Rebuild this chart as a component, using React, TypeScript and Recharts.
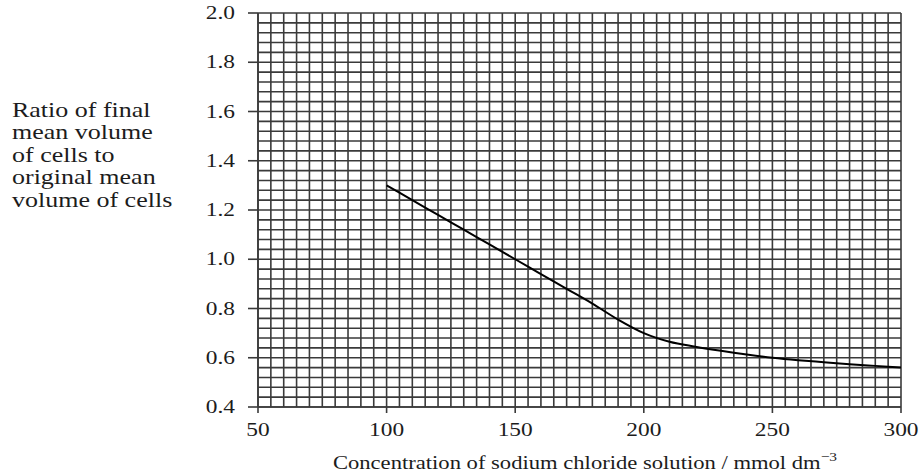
import { LineChart, Line, XAxis, YAxis, CartesianGrid } from 'recharts';

// concentration of NaCl (mmol dm-3)
const concentration = [100, 110, 120, 130, 140, 150, 160, 170, 180, 190, 200, 210, 220, 230, 240, 250, 260, 270, 280, 290, 300];
// ratio of final / original mean cell volume
const volumeRatio = [1.30, 1.24, 1.18, 1.12, 1.06, 1.0, 0.94, 0.88, 0.82, 0.755, 0.70, 0.665, 0.645, 0.628, 0.613, 0.60, 0.59, 0.582, 0.574, 0.567, 0.56];

const xMajor = [50, 100, 150, 200, 250, 300];
const yMajor = [0.4, 0.6, 0.8, 1.0, 1.2, 1.4, 1.6, 1.8, 2.0];

const yLabelLines = ['Ratio of final', 'mean volume', 'of cells to', 'original mean', 'volume of cells'];

// graph paper: minor squares every 5 on x, every 0.04 on y
const xGrid: number[] = [];
for (let v = 50; v <= 300; v += 5) xGrid.push(v);
const yGrid: number[] = [];
for (let i = 0; i <= 40; i++) yGrid.push(+(0.4 + i * 0.04).toFixed(2));

const data = concentration.map((c, i) => ({ c, ratio: volumeRatio[i] }));

const FONT = '"Liberation Serif", "Times New Roman", serif';
const INK = '#1c1c1c';
const GRID = '#3a3a3a';
const STRETCH = 1.3; // the scanned text is wider than plain Times

const isMajorX = (v: number) => xMajor.includes(v);
const isMajorY = (v: number) => yMajor.some((m) => Math.abs(m - v) < 1e-6);

const XTick = ({ x, y, payload }: any) => {
    if (!isMajorX(payload.value)) return null;
    return (
        <g>
            <line x1={x} x2={x} y1={y} y2={y + 6} stroke={GRID} strokeWidth={1.6} />
            <g transform={`translate(${x},${y + 29}) scale(${STRETCH},1)`}>
                <text x={0} y={0} textAnchor="middle" fill={INK} style={{ fontFamily: FONT, fontSize: 18 }}>
                    {payload.value}
                </text>
            </g>
        </g>
    );
};

const YTick = ({ x, y, payload }: any) => {
    if (!isMajorY(payload.value)) return null;
    return (
        <g>
            <line x1={x - 10} x2={x} y1={y} y2={y} stroke={GRID} strokeWidth={1.6} />
            <g transform={`translate(${x - 23},${y + 6}) scale(${STRETCH},1)`}>
                <text x={0} y={0} textAnchor="end" fill={INK} style={{ fontFamily: FONT, fontSize: 18 }}>
                    {payload.value.toFixed(1)}
                </text>
            </g>
        </g>
    );
};

const YLabel = () => (
    <g transform={`translate(12,117) scale(1.3,1)`}>
        <text x={0} y={0} fill={INK} style={{ fontFamily: FONT, fontSize: 20 }}>
            {yLabelLines.map((line, i) => (
                <tspan key={i} x={0} dy={i === 0 ? 0 : 22.5}>{line}</tspan>
            ))}
        </text>
    </g>
);

const XLabel = () => (
    <g transform={`translate(585,469) scale(1.19,1)`}>
        <text x={0} y={0} textAnchor="middle" fill={INK} style={{ fontFamily: FONT, fontSize: 19 }}>
            Concentration of sodium chloride solution / mmol dm
            <tspan dy={-8} style={{ fontSize: 13 }}>−3</tspan>
        </text>
    </g>
);

export default function App() {
    return (
        <div style={{ position: 'absolute', left: 0, top: 0, width: 924, height: 476, background: '#fff' }}>
            <LineChart width={924} height={476} data={data} margin={{ top: 13, right: 23, bottom: 9, left: 0 }}>
                <CartesianGrid stroke={GRID} strokeWidth={1.6} />
                <XAxis
                    dataKey="c"
                    type="number"
                    domain={[50, 300]}
                    ticks={xGrid}
                    interval={0}
                    height={60}
                    tickSize={0}
                    tickMargin={0}
                    axisLine={{ stroke: GRID, strokeWidth: 1.6 }}
                    tickLine={false}
                    tick={<XTick />}
                    label={<XLabel />}
                />
                <YAxis
                    type="number"
                    domain={[0.4, 2.0]}
                    ticks={yGrid}
                    interval={0}
                    width={258}
                    tickSize={0}
                    tickMargin={0}
                    axisLine={{ stroke: GRID, strokeWidth: 1.6 }}
                    tickLine={false}
                    tick={<YTick />}
                    label={<YLabel />}
                />
                <Line
                    type="monotone"
                    dataKey="ratio"
                    stroke="#000"
                    strokeWidth={2}
                    dot={false}
                    isAnimationActive={false}
                />
            </LineChart>
        </div>
    );
}
